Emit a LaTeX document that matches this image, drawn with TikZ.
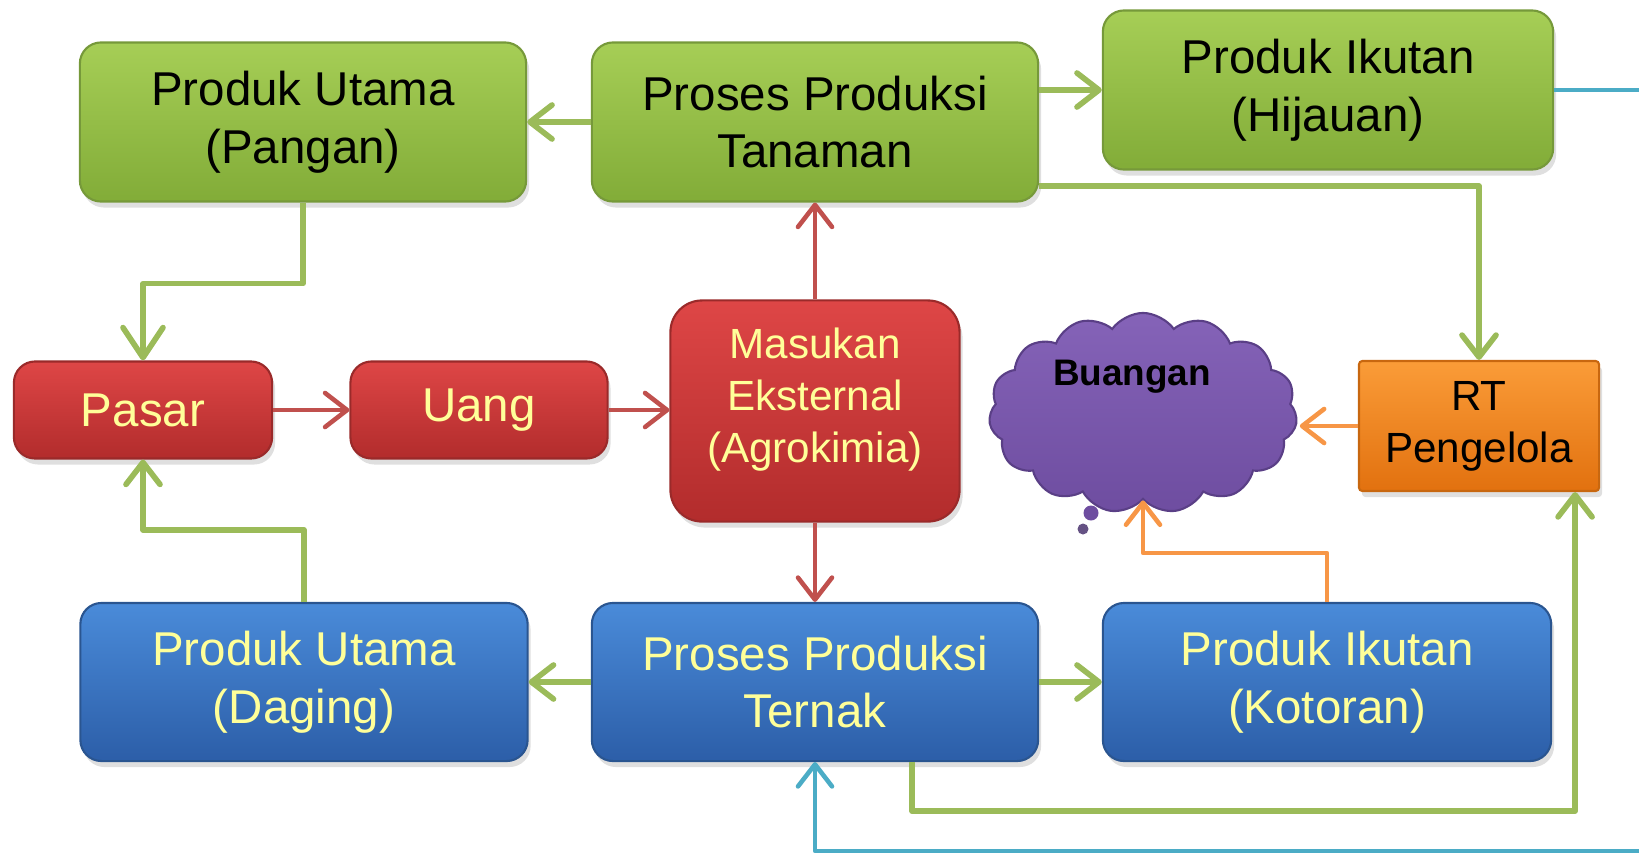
\documentclass[tikz,border=0pt]{standalone}
\usepackage{fontspec}
\setmainfont{Liberation Sans}
\usepackage{tikz}
\usetikzlibrary{arrows.meta,positioning,shapes.symbols,shadows}
\definecolor{gtop}{HTML}{A6CE56}
\definecolor{gbot}{HTML}{82AC38}
\definecolor{gedge}{HTML}{76993A}
\definecolor{rtop}{HTML}{DE4646}
\definecolor{rbot}{HTML}{B22C2C}
\definecolor{redge}{HTML}{9A2A2A}
\definecolor{btop}{HTML}{4A8BD9}
\definecolor{bbot}{HTML}{2C5EA8}
\definecolor{bedge}{HTML}{2A5590}
\definecolor{otop}{HTML}{FA9C38}
\definecolor{obot}{HTML}{E2710F}
\definecolor{oedge}{HTML}{C8670F}
\definecolor{ptop}{HTML}{8563B8}
\definecolor{pbot}{HTML}{6E4DA0}
\definecolor{pedge}{HTML}{5A3F86}
\definecolor{lgreen}{HTML}{9BBB59}
\definecolor{lred}{HTML}{C0504D}
\definecolor{lorange}{HTML}{F79646}
\definecolor{lblue}{HTML}{4BACC6}
\definecolor{pale}{HTML}{FFFF99}
\tikzset{
  boxbase/.style={rounded corners=6pt,align=center,inner sep=2pt,line width=0.6pt,drop shadow={opacity=0.25,shadow xshift=0.03cm,shadow yshift=-0.06cm}},
  txtbig/.style={font=\fontsize{13.5}{16.4}\selectfont},
  txtmid/.style={font=\fontsize{12}{14.8}\selectfont},
  gbox/.style={boxbase,txtbig,top color=gtop,bottom color=gbot,draw=gedge,text=black,minimum width=4.46cm,minimum height=1.59cm},
  rbox/.style={boxbase,txtbig,top color=rtop,bottom color=rbot,draw=redge,text=pale,minimum width=2.58cm,minimum height=0.97cm},
  bbox/.style={boxbase,txtbig,top color=btop,bottom color=bbot,draw=bedge,text=pale,minimum width=4.47cm,minimum height=1.58cm},
  obox/.style={boxbase,txtmid,rounded corners=1pt,top color=otop,bottom color=obot,draw=oedge,text=black,minimum width=2.40cm,minimum height=1.30cm},
  arr/.style={-{Straight Barb[length=2.2mm,width=3.4mm,round]},line width=1.4pt,line join=round},
  garr/.style={arr,color=lgreen,line width=1.6pt},
  rarr/.style={arr,color=lred,line width=1.3pt},
  oarr/.style={arr,color=lorange,line width=1.3pt},
  barr/.style={arr,color=lblue,line width=1.3pt}}
\begin{document}
\begin{tikzpicture}[x=0.01cm,y=-0.01cm]
\clip (0,0) rectangle (1639,854);
% plants row
\node[gbox] (pangan) at (303,122) {Produk Utama\\(Pangan)};
\node[gbox] (tanaman) at (815,122) {Proses Produksi\\Tanaman};
\node[gbox,minimum width=4.50cm] (hijauan) at (1328,90) {Produk Ikutan\\(Hijauan)};
% market row
\node[rbox] (pasar) at (143,410) {Pasar};
\node[rbox,minimum width=2.57cm] (uang) at (479,410) {Uang};
\node[rbox,txtmid,rounded corners=9pt,text depth=0.32cm,minimum width=2.89cm,minimum height=2.21cm] (masukan) at (815,411) {Masukan\\Eksternal\\(Agrokimia)};
\node[cloud,cloud puffs=15,cloud puff arc=110,aspect=1.6,minimum width=3.08cm,minimum height=2.0cm,top color=ptop,bottom color=pbot,draw=pedge,line width=0.6pt] (buangan) at (1143,413) {};
\fill[pbot] (1091,513) circle (0.075cm);
\fill[pedge!70!gray] (1083,529) circle (0.055cm);
\node[font=\bfseries\fontsize{10.5}{12}\selectfont] (buangantxt) at (1132,377) {Buangan};
\node[obox] (rt) at (1479,426) {RT\\Pengelola};
% livestock row
\node[bbox] (daging) at (304,682) {Produk Utama\\(Daging)};
\node[bbox,minimum width=4.46cm] (ternak) at (815,682) {Proses Produksi\\Ternak};
\node[bbox,minimum width=4.48cm] (kotoran) at (1327,682) {Produk Ikutan\\(Kotoran)};
% connectors
\draw[garr] (tanaman.west) -- (pangan.east);
\draw[garr] (tanaman.east |- hijauan.west) -- (hijauan.west);
\draw[garr] ([yshift=-0.64cm]tanaman.east) -| (rt.north);
\draw[garr,-{Straight Barb[length=3mm,width=4mm,round]}] (pangan.south) -- ++(0,81) -| (pasar.north);
\draw[rarr] (pasar.east) -- (uang.west);
\draw[rarr] (uang.east) -- (uang.east -| masukan.west);
\draw[rarr] (masukan.north) -- (tanaman.south);
\draw[rarr] (masukan.south) -- (ternak.north);
\draw[garr] (daging.north) -- ++(0,-72) -| (pasar.south);
\draw[garr] (ternak.west) -- (daging.east);
\draw[garr] (ternak.east) -- (kotoran.west);
\draw[oarr] (kotoran.north) -- ++(0,-49) -| (buangan.south);
\draw[oarr] (rt.west) -- ++(-0.58cm,0);
\draw[garr] ([xshift=0.97cm]ternak.south) -- ++(0,49) -| ([xshift=0.96cm]rt.south);
\coordinate (offb) at (1700,851);
\draw[barr] (hijauan.east) -| (offb) -| (ternak.south);
\end{tikzpicture}
\end{document}
